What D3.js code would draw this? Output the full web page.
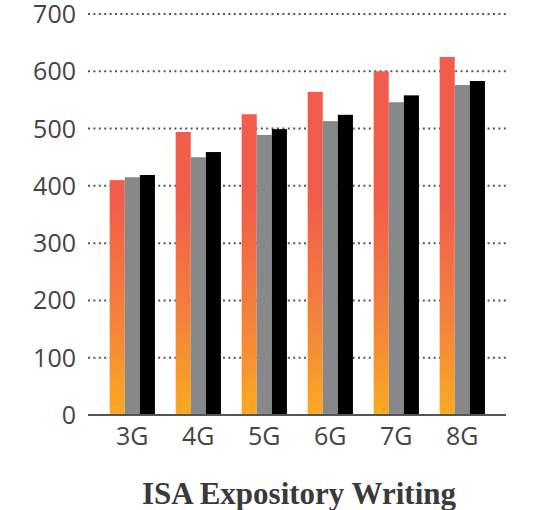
<!DOCTYPE html>
<html><head><meta charset="utf-8">
<script src="https://cdn.jsdelivr.net/npm/d3@7/dist/d3.min.js"></script>
<style>html,body{margin:0;padding:0;background:#fff;}</style>
</head><body>
<svg id="chart" width="539" height="510"></svg>
<script>
const categories = ["3G", "4G", "5G", "6G", "7G", "8G"];
const seriesNames = ["A", "B", "C"];
const seriesA = [410, 494, 525, 564, 600, 625];
const seriesB = [415, 450, 489, 513, 546, 576];
const seriesC = [419, 459, 499, 524, 558, 583];
const yTicks = [0, 100, 200, 300, 400, 500, 600, 700];
const title = "ISA Expository Writing";

const svg = d3.select("#chart");
const y = d3.scaleLinear().domain([0, 700]).range([415, 14]);
const x0 = d3.scaleBand().domain(categories).range([99.3, 495.3]).paddingInner(0.314).paddingOuter(0.157);
const x1 = d3.scaleBand().domain(seriesNames).range([0, x0.bandwidth()]);

const defs = svg.append("defs");
const grad = defs.append("linearGradient").attr("id", "og")
  .attr("gradientUnits", "userSpaceOnUse")
  .attr("x1", 0).attr("x2", 0).attr("y1", y(0)).attr("y2", y(380));
grad.append("stop").attr("offset", "0%").attr("stop-color", "#FAAA22");
grad.append("stop").attr("offset", "45%").attr("stop-color", "#F3813C");
grad.append("stop").attr("offset", "100%").attr("stop-color", "#F25C4A");

// grid
svg.append("g").selectAll("line").data(yTicks.filter(d => d > 0)).join("line")
  .attr("x1", 88).attr("x2", 506)
  .attr("y1", d => y(d)).attr("y2", d => y(d))
  .attr("stroke", "#555").attr("stroke-width", 2)
  .attr("stroke-dasharray", "2 3.4");

// y labels
svg.append("g").selectAll("text").data(yTicks).join("text")
  .attr("x", 76).attr("y", d => y(d)).attr("dy", "0.36em")
  .attr("text-anchor", "end")
  .attr("font-family", "'Open Sans', sans-serif").attr("font-size", 25)
  .attr("fill", "#444").text(d => d);

const colors = {A: "url(#og)", B: "#87888A", C: "#000000"};
const rows = categories.map((c, i) => ({c, vals: [
  {s: "A", v: seriesA[i]}, {s: "B", v: seriesB[i]}, {s: "C", v: seriesC[i]}]}));

svg.append("g").selectAll("g").data(rows).join("g")
  .attr("transform", d => `translate(${x0(d.c)},0)`)
  .selectAll("rect").data(d => d.vals).join("rect")
  .attr("x", d => x1(d.s)).attr("width", x1.bandwidth())
  .attr("y", d => y(d.v)).attr("height", d => y(0) - y(d.v))
  .attr("fill", d => colors[d.s]);

// baseline
svg.append("line").attr("x1", 88).attr("x2", 506).attr("y1", y(0)).attr("y2", y(0))
  .attr("stroke", "#555").attr("stroke-width", 2);

// x labels
svg.append("g").selectAll("text").data(categories).join("text")
  .attr("x", d => x0(d) + x0.bandwidth() / 2).attr("y", 445)
  .attr("text-anchor", "middle")
  .attr("font-family", "'Open Sans', sans-serif").attr("font-size", 25)
  .attr("fill", "#444").text(d => d);

svg.append("text").attr("x", 299).attr("y", 504)
  .attr("text-anchor", "middle")
  .attr("font-family", "'Liberation Serif', 'Times New Roman', serif")
  .attr("font-weight", "bold").attr("font-size", 31)
  .attr("fill", "#3a3a3a").text(title);
</script>
</body></html>
